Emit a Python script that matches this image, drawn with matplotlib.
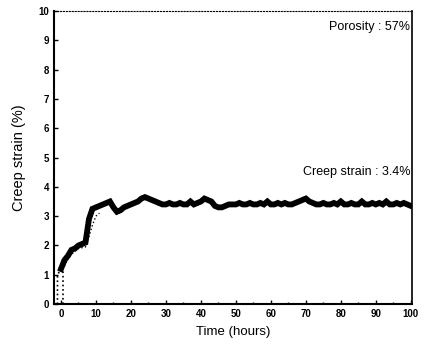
import matplotlib
matplotlib.use("Agg")
import matplotlib.pyplot as plt
from matplotlib.ticker import MultipleLocator

plt.rcParams['font.family'] = ['Liberation Sans', 'DejaVu Sans']

# Main creep curve (hours, %)
time_h = list(range(0, 101))
strain = [1.2, 1.5, 1.65, 1.85, 1.9, 2.0, 2.05, 2.1, 2.9, 3.25,
          3.3, 3.35, 3.4, 3.45, 3.5, 3.3, 3.15, 3.2, 3.3, 3.35,
          3.4, 3.45, 3.5, 3.6, 3.65, 3.6, 3.55, 3.5, 3.45, 3.4,
          3.4, 3.45, 3.4, 3.4, 3.45, 3.4, 3.4, 3.5, 3.4, 3.45,
          3.5, 3.6, 3.55, 3.5, 3.35, 3.3, 3.3, 3.35, 3.4, 3.4,
          3.4, 3.45, 3.4, 3.4, 3.45, 3.4, 3.4, 3.45, 3.4, 3.5,
          3.4, 3.4, 3.45, 3.4, 3.45, 3.4, 3.4, 3.45, 3.5, 3.55,
          3.6, 3.5, 3.45, 3.4, 3.4, 3.45, 3.4, 3.4, 3.45, 3.4,
          3.5, 3.4, 3.4, 3.45, 3.4, 3.4, 3.5, 3.4, 3.4, 3.45,
          3.4, 3.45, 3.4, 3.5, 3.4, 3.4, 3.45, 3.4, 3.45, 3.4, 3.35]

# Initial loading (dotted)
load_time = [-1.0, -1.0, 0.0, 0.5, 0.5]
load_strain = [0.0, 1.0, 1.2, 0.0, 1.2]

# Scattered lower trace during primary creep
lower_time = [1, 2, 3, 5, 7, 8, 9, 10, 11]
lower_strain = [1.3, 1.55, 1.7, 1.9, 1.95, 2.3, 2.7, 3.0, 3.1]

x_ticks = [0, 10, 20, 30, 40, 50, 60, 70, 80, 90, 100]
y_ticks = [0, 1, 2, 3, 4, 5, 6, 7, 8, 9, 10]

fig = plt.figure(figsize=(4.25, 3.5), dpi=100)
ax = fig.add_axes([0.127, 0.131, 0.842, 0.838])

ax.plot(time_h, strain, color='black', lw=4.2, solid_joinstyle='miter')
ax.plot(load_time[:3], load_strain[:3], color='black', lw=1.2, ls=':')
ax.plot(load_time[3:], load_strain[3:], color='black', lw=1.2, ls=':')
ax.plot(lower_time, lower_strain, color='black', lw=1.0, ls=':')

ax.set_xlim(-2, 100.3)
ax.set_ylim(0, 10)
ax.set_xticks(x_ticks)
ax.set_yticks(y_ticks)
ax.xaxis.set_minor_locator(MultipleLocator(5))
ax.tick_params(direction='in', which='both', length=3, width=1, labelsize=7)
ax.tick_params(which='minor', length=1.5)
for lab in ax.get_xticklabels() + ax.get_yticklabels():
    lab.set_fontweight('bold')

ax.spines['left'].set_linewidth(1.5)
ax.spines['bottom'].set_linewidth(1.5)
ax.spines['right'].set_linewidth(1.2)
ax.spines['top'].set_linewidth(0.8)
ax.spines['top'].set_linestyle(':')

ax.set_xlabel('Time (hours)', fontsize=9.5, labelpad=5)
ax.set_ylabel('Creep strain (%)', fontsize=10.5, labelpad=9)

ax.text(0.995, 0.965, 'Porosity : 57%', transform=ax.transAxes,
        ha='right', va='top', fontsize=9)
ax.text(0.995, 0.43, 'Creep strain : 3.4%', transform=ax.transAxes,
        ha='right', va='bottom', fontsize=9)

fig.savefig('out.png', dpi=100)
